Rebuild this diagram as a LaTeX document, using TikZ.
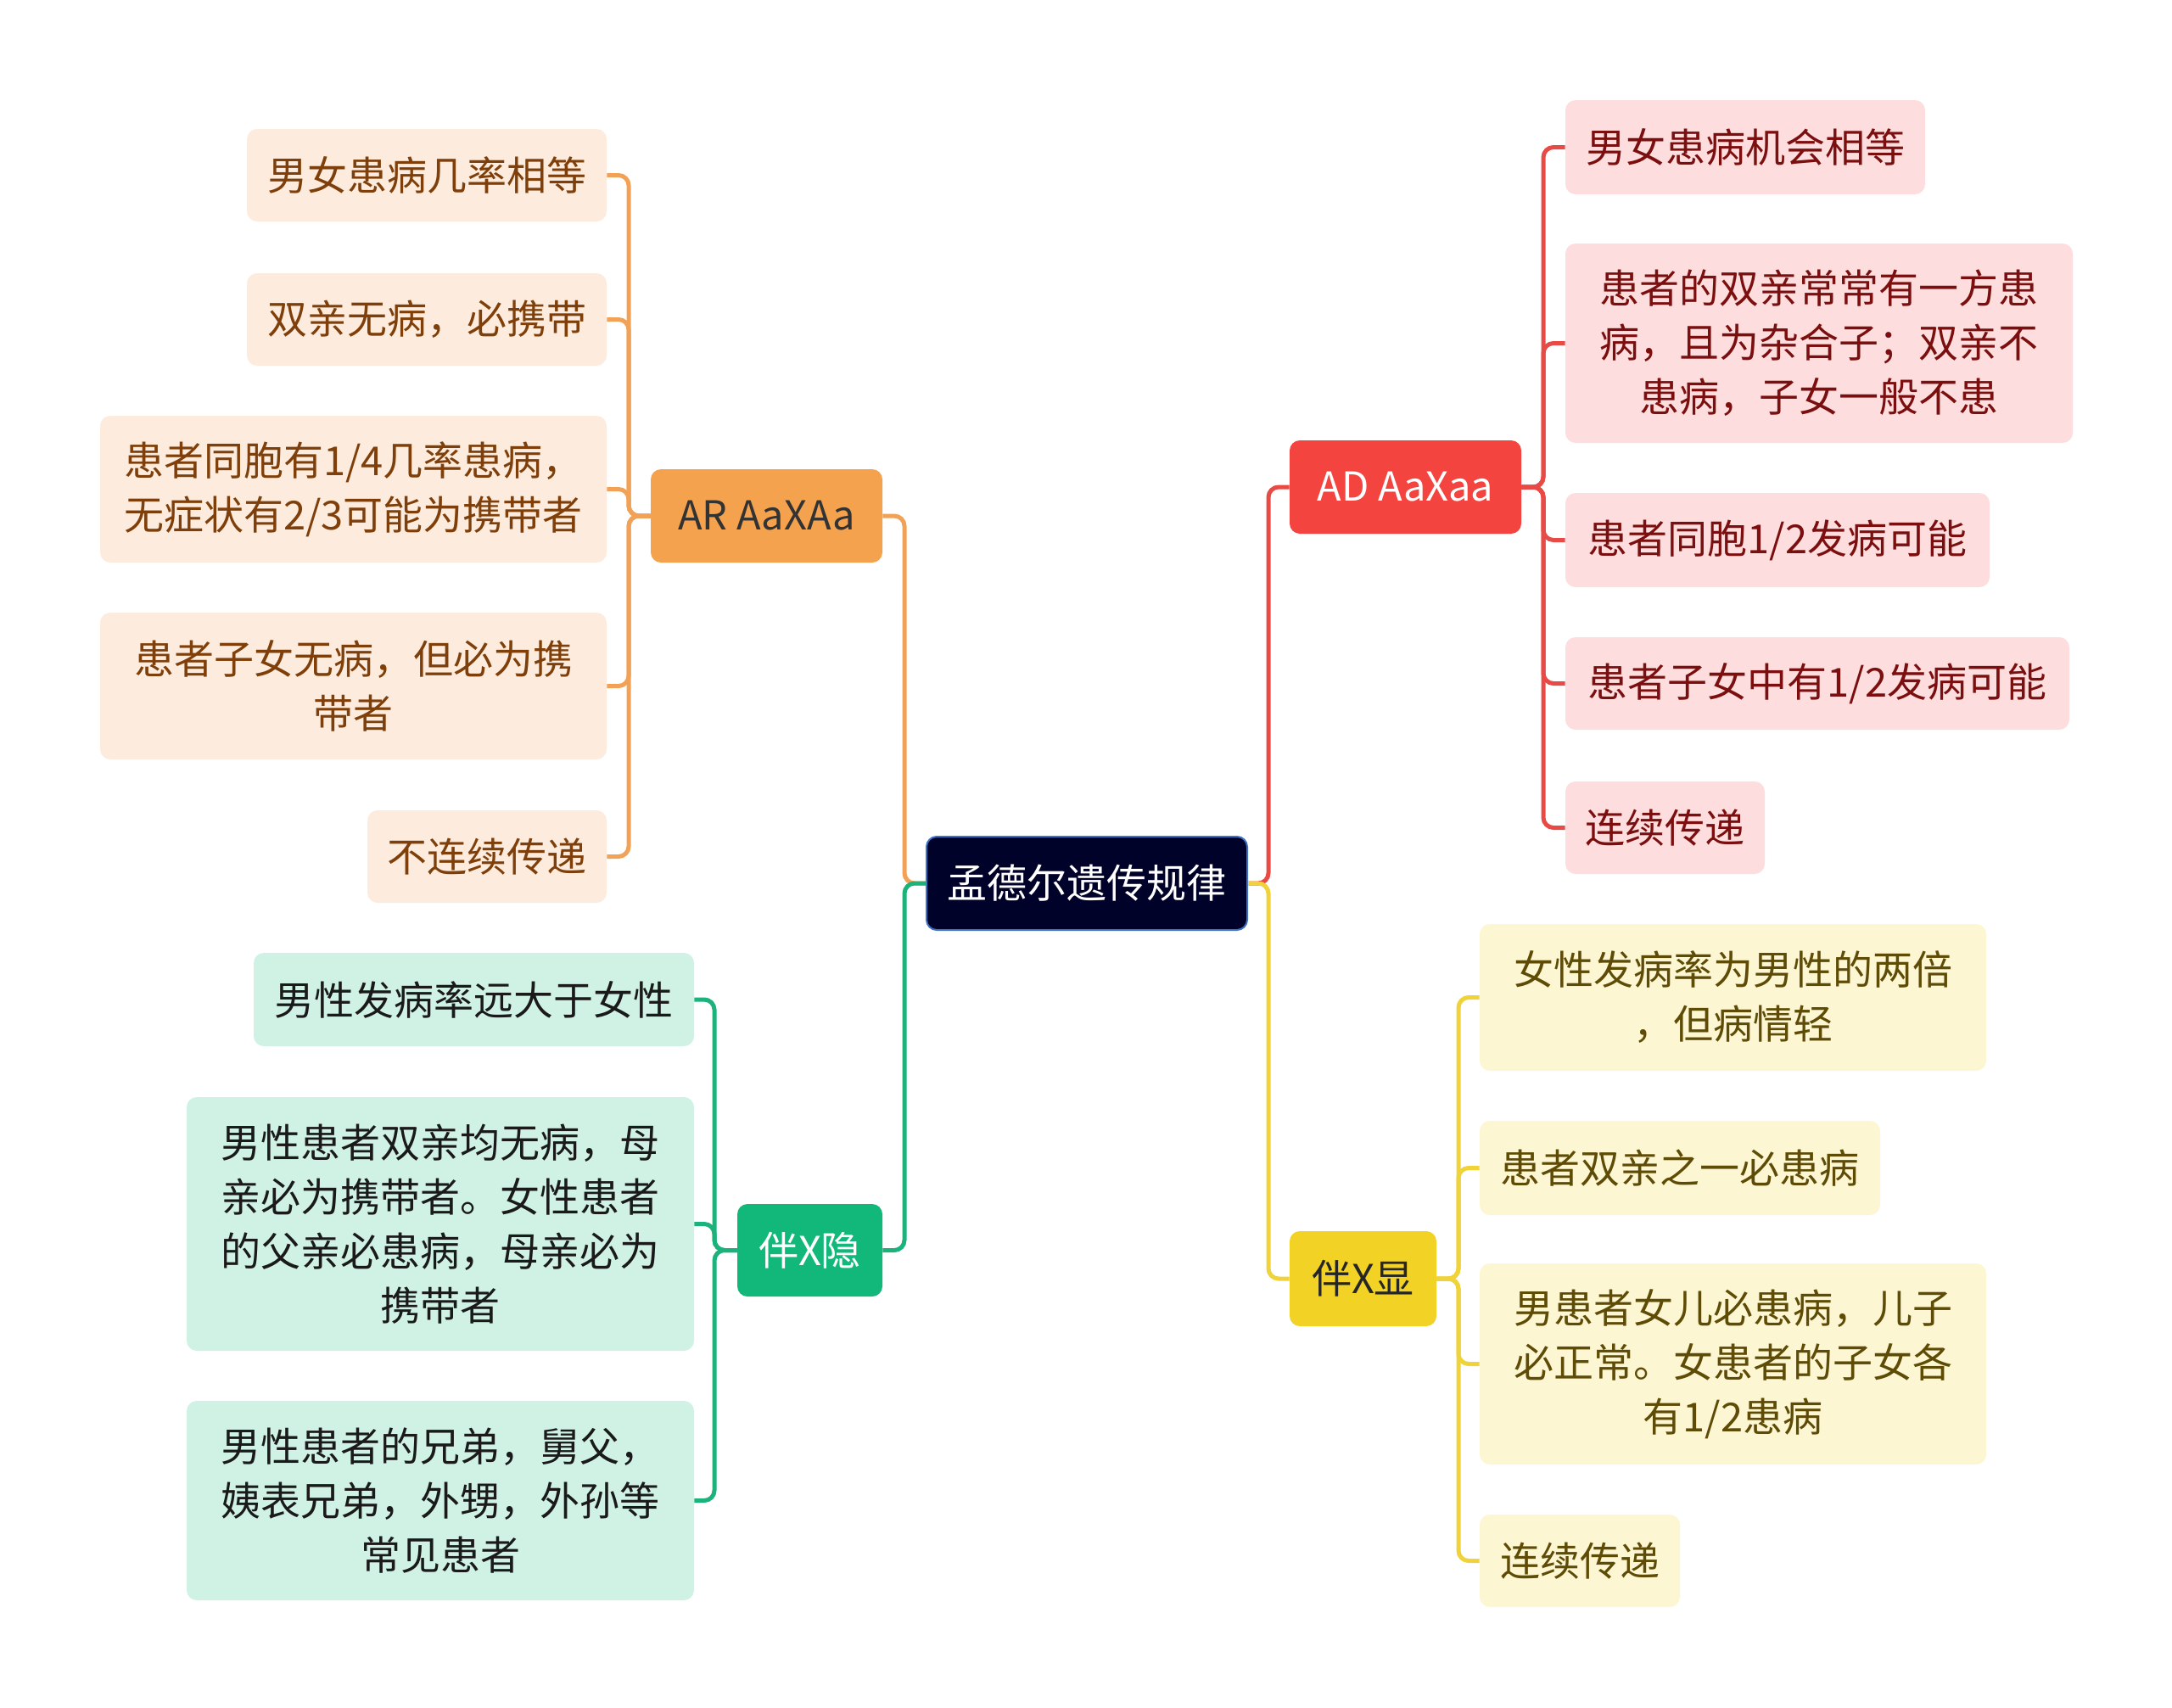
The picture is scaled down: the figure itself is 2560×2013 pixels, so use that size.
\documentclass[tikz,border=0pt]{standalone}
\usepackage{fontspec}
\setmainfont{Noto Sans CJK SC}
\newcommand\mfs{\fontsize{23.5pt}{32pt}\selectfont}
\definecolor{rootc}{HTML}{000229}
\definecolor{rootb}{HTML}{4070C0}
\definecolor{oline}{HTML}{F2A256}
\definecolor{omain}{HTML}{F5A24F}
\definecolor{ofill}{HTML}{FDECDD}
\definecolor{otext}{HTML}{7F3F0A}
\definecolor{rline}{HTML}{E84B45}
\definecolor{rmain}{HTML}{F4443F}
\definecolor{rfill}{HTML}{FDDDDD}
\definecolor{rtext}{HTML}{7B0F0F}
\definecolor{gline}{HTML}{1BB37B}
\definecolor{gmain}{HTML}{12B87A}
\definecolor{gfill}{HTML}{CFF2E4}
\definecolor{gtext}{HTML}{1A1A1A}
\definecolor{yline}{HTML}{F0D23A}
\definecolor{ymain}{HTML}{F3D226}
\definecolor{yfill}{HTML}{FCF6D3}
\definecolor{ytext}{HTML}{5E4B05}
\tikzset{
  bx/.style 2 args={rounded corners=6pt, inner sep=0pt, align=center,
    minimum width=#1*0.5pt, minimum height=#2*0.5pt, font=\mfs},
  conn/.style={line width=2.5pt, rounded corners=6pt},
  ochild/.style={fill=ofill, text=otext},
  rchild/.style={fill=rfill, text=rtext},
  gchild/.style={fill=gfill, text=gtext},
  ychild/.style={fill=yfill, text=ytext},
}
\begin{document}
\begin{tikzpicture}[x=0.5pt,y=-0.5pt]
\useasboundingbox[fill=white] (0,0) rectangle (2560,2013);
% root
\node[bx={378}{110}, fill=rootc, draw=rootb, line width=1pt, text=white] (root) at (1281,1041) {孟德尔遗传规律};
% main branches
\node[bx={273}{110}, fill=omain, text=black!80] (AR) at (903.5,608) {AR AaXAa};
\node[bx={171}{109}, fill=gmain, text=white] (XR) at (954.5,1473.5) {伴X隐};
\node[bx={273}{110}, fill=rmain, text=white] (AD) at (1656.5,574) {AD AaXaa};
\node[bx={173}{112}, fill=ymain, text=black!85] (XD) at (1606.5,1507) {伴X显};
% AR children
\node[bx={424}{109}, ochild] (O1) at (503,206.5) {男女患病几率相等};
\node[bx={424}{109}, ochild] (O2) at (503,376.5) {双亲无病，必携带};
\node[bx={597}{173}, ochild] (O3) at (416.5,576.5) {患者同胞有1/4几率患病，\\无症状有2/3可能为携带者};
\node[bx={597}{173}, ochild] (O4) at (416.5,808.5) {患者子女无病，但必为携\\带者};
\node[bx={282}{109}, ochild] (O5) at (574,1009.5) {不连续传递};
% XR children
\node[bx={519}{110}, gchild] (G1) at (558.5,1178) {男性发病率远大于女性};
\node[bx={598}{299}, gchild] (G2) at (519,1442.5) {男性患者双亲均无病，母\\亲必为携带者。女性患者\\的父亲必患病，母亲必为\\携带者};
\node[bx={598}{235}, gchild] (G3) at (519,1768.5) {男性患者的兄弟，舅父，\\姨表兄弟，外甥，外孙等\\常见患者};
% AD children
\node[bx={424}{111}, rchild] (R1) at (2057,173.5) {男女患病机会相等};
\node[bx={598}{235}, rchild] (R2) at (2144,404.5) {患者的双亲常常有一方患\\病，且为杂合子；双亲不\\患病，子女一般不患};
\node[bx={500}{111}, rchild] (R3) at (2095,636.5) {患者同胞1/2发病可能};
\node[bx={594}{109}, rchild] (R4) at (2142,805.5) {患者子女中有1/2发病可能};
\node[bx={235}{109}, rchild] (R5) at (1962.5,975.5) {连续传递};
% XD children
\node[bx={597}{173}, ychild] (Y1) at (2042.5,1175.5) {女性发病率为男性的两倍\\，但病情轻};
\node[bx={472}{111}, ychild] (Y2) at (1980,1376.5) {患者双亲之一必患病};
\node[bx={597}{237}, ychild] (Y3) at (2042.5,1607.5) {男患者女儿必患病，儿子\\必正常。女患者的子女各\\有1/2患病};
\node[bx={236}{109}, ychild] (Y4) at (1862,1839.5) {连续传递};
% bus coordinates
\coordinate (bL) at (1066,0);
\coordinate (bR) at (1495,0);
\coordinate (bo) at (741,0);
\coordinate (bg) at (842,0);
\coordinate (br) at (1819,0);
\coordinate (by) at (1719,0);
% root connectors
\draw[conn, oline] (root.west) -- (root.west -| bL) |- (AR.east);
\draw[conn, gline] (root.west) -- (root.west -| bL) |- (XR.east);
\draw[conn, rline] (root.east) -- (root.east -| bR) |- (AD.west);
\draw[conn, yline] (root.east) -- (root.east -| bR) |- (XD.west);
% branch connectors
\foreach \c in {O1,O2,O3,O4,O5}
  \draw[conn, oline] (AR.west) -- (AR.west -| bo) |- (\c.east);
\foreach \c in {G1,G2,G3}
  \draw[conn, gline] (XR.west) -- (XR.west -| bg) |- (\c.east);
\foreach \c in {R1,R2,R3,R4,R5}
  \draw[conn, rline] (AD.east) -- (AD.east -| br) |- (\c.west);
\foreach \c in {Y1,Y2,Y3,Y4}
  \draw[conn, yline] (XD.east) -- (XD.east -| by) |- (\c.west);
\end{tikzpicture}
\end{document}
